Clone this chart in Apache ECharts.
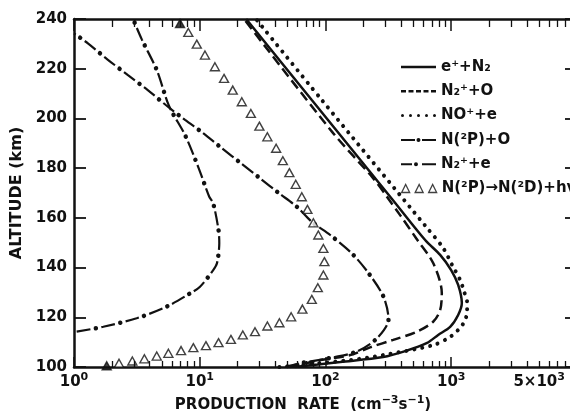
<!DOCTYPE html>
<html><head><meta charset="utf-8">
<script src="https://cdn.jsdelivr.net/npm/echarts@6/dist/echarts.min.js"></script>
<style>
html,body{margin:0;padding:0;background:#fff}
#wrap{position:relative;width:570px;height:411px}
#c,#t{position:absolute;left:0;top:0;width:570px;height:411px}
#t{pointer-events:none}
</style>
</head><body><div id="wrap"><div id="c"></div><div id="t"></div></div>
<script>
// ---- data (altitude km, production rate cm^-3 s^-1) ----
const xTickLabels = [1, 10, 100, 1000, 5000];

const altEN2  = [100,101,102,104,106.4,109.7,112.9,116.1,120.9,125.7,133,139,145.1,151.1,167.2,207.4,240];
const rateEN2 = [57,87,131,287,430,643,787,980,1135,1214,1135,998,816,620,343,77.8,23.4];

const altN2O  = [100,102.8,104.8,107.9,110.9,114.2,118.2,122.9,129.8,141.8,151.5,161.1,168.4,176,194.1,240];
const rateN2O = [52,91,157,226,345,533,718,816,841,718,531,392,309,239,115,22.5];

const altNOe  = [100,101.2,102.8,104.8,108.8,112.1,114.9,118.1,122.1,126.1,130.2,135,141,147.9,155.9,207.4,240];
const rateNOe = [43,75,157,287,718,980,1135,1267,1337,1337,1267,1177,1016,862,643,93.5,28];

const altNPO  = [100,101.5,103.9,106.2,111.5,119.2,128.3,137.9,145.7,153.1,158.4,164.5,170.1,175.9,181.7,188,194,199.4,205.4,211.4,217.5,223.8,230.2,234.2];
const rateNPO = [47.7,62.8,116,177,256,317,289,219,162,109,77.8,59.1,42.2,30.2,21.6,15,10.7,7.64,5.37,3.86,2.67,1.84,1.29,1.0];

const altN2e  = [114.2,116.2,119.6,124.3,129.6,132.3,139,141.7,149.8,155.1,165.8,168.5,180,193.3,205,219.5,231.8,240];
const rateN2e = [1.05,1.71,3.15,5.46,8.37,10.05,12.8,13.7,14.3,14.1,12.8,11.9,9.8,7.64,5.7,4.55,3.46,2.95];

const altTri  = [100.5,101.5,102.4,103.3,104.4,105.5,106.6,107.8,108.6,109.8,111.1,112.9,114.2,116.5,117.8,120.2,123.3,127.2,131.9,137,142.4,147.7,153.1,158,163.4,168.5,173.5,178.2,183,188,192.6,196.9,202,206.7,211.4,216.1,220.8,225.5,229.9,234.6,238.2];
const rateTri = [1.82,2.28,2.91,3.63,4.55,5.63,7.1,8.89,11.2,14.1,17.7,22,27.5,34.5,43,53.3,65.5,77.8,86.9,96.2,98,96.2,87.7,80.1,71.8,64.8,58,51.6,45.8,40.5,34.5,29.8,25.5,21.6,18.3,15.6,13.2,11,9.47,8.11,6.97];

const legendNames = ['eN2','N2O','NOe','NPO','N2e','hv'];
const legendTexts = {eN2:'e⁺+N₂', N2O:'N₂⁺+O', NOe:'NO⁺+e', NPO:'N(²P)+O', N2e:'N₂⁺+e', hv:'N(²P)→N(²D)+hν'};

// ---- build ----
const C = '#111';
const FONT = 'DejaVu Sans';
const X_MIN = 1, X_MAX = 10000, Y_MIN = 100, Y_MAX = 240;
const GRID = {left: 74, top: 19, width: 503, height: 348, outerBoundsMode: 'none'};
const pairs = (r, a) => r.map((v, i) => [v, a[i]]);

const legendIcons = {
  eN2: {icon: 'path://M0,0H35V2.5H0Z', h: 2.5},
  N2O: {icon: 'path://M0,0H5V2.5H0Z M7.5,0H12.5V2.5H7.5Z M15,0H20V2.5H15Z M22.5,0H27.5V2.5H22.5Z M30,0H35V2.5H30Z', h: 2.5},
  NOe: {icon: 'path://M0,1.5A1.5,1.5 0 1 1 3,1.5A1.5,1.5 0 1 1 0,1.5Z M8,1.5A1.5,1.5 0 1 1 11,1.5A1.5,1.5 0 1 1 8,1.5Z M16,1.5A1.5,1.5 0 1 1 19,1.5A1.5,1.5 0 1 1 16,1.5Z M24,1.5A1.5,1.5 0 1 1 27,1.5A1.5,1.5 0 1 1 24,1.5Z M32,1.5A1.5,1.5 0 1 1 35,1.5A1.5,1.5 0 1 1 32,1.5Z', h: 3},
  NPO: {icon: 'path://M0,1H14V3H0Z M17.5,0A2,2 0 1 1 17.49,0Z M21,1H35V3H21Z', h: 4},
  N2e: {icon: 'path://M0,1H11V3H0Z M15,0A2,2 0 1 1 14.99,0Z M21,1H35V3H21Z', h: 4},
  hv:  {icon: 'path://M0,8L4,0L8,8Z M13.5,8L17.5,0L21.5,8Z M27,8L31,0L35,8Z', h: 8}
};

const txt = {fontFamily: FONT, fontWeight: 'bold', color: C};
const supTok = Object.assign({}, txt, {fontSize: 11, lineHeight: 12, verticalAlign: 'bottom', padding: [0, 0, 7, 0]});
const baseTok = Object.assign({}, txt, {fontSize: 15, lineHeight: 16, verticalAlign: 'bottom'});

const axisLine = {show: true, onZero: false, lineStyle: {color: C, width: 2.5}};
const noTicks = {axisTick: {show: false}, minorTick: {show: false}, splitLine: {show: false}, minorSplitLine: {show: false}};

const triData = pairs(rateTri, altTri).map((p, i, arr) => ({
  value: p,
  itemStyle: (i === 0 || i === arr.length - 1) ? {color: C} : undefined
}));

const dashDot = (name, r, a) => ([
  {name, type: 'line', data: pairs(r, a), symbol: 'none', smooth: 0.3, color: C,
   lineStyle: {color: C, width: 2.2, type: [14, 11]}},
  {name, type: 'line', data: pairs(r, a), symbol: 'none', smooth: 0.3, color: C,
   lineStyle: {color: C, width: 4.5, type: [0.01, 24.99], dashOffset: -19.5, cap: 'round'}}
]);

// ---- main chart: frame, labels, curves, legend ----
const option = {
  animation: false,
  backgroundColor: '#fff',
  grid: GRID,
  xAxis: [
    Object.assign({type: 'log', min: X_MIN, max: X_MAX, position: 'bottom', axisLine,
     axisLabel: {customValues: xTickLabels, margin: 7,
       formatter: v => v === 5000 ? '{b|5×10}{p|3}' : '{b|10}{p|' + Math.round(Math.log10(v)) + '}',
       rich: {b: baseTok, p: supTok}},
     name: '{t|PRODUCTION  RATE  (cm}{s|−3}{t|s}{s|−1}{t|)}',
     nameLocation: 'middle', nameGap: 27,
     nameTextStyle: {padding: [0, 45, 0, 0], rich: {t: baseTok, s: supTok}}}, noTicks),
    Object.assign({type: 'log', min: X_MIN, max: X_MAX, position: 'top', axisLine,
     axisLabel: {show: false}}, noTicks)
  ],
  yAxis: [
    Object.assign({type: 'value', min: Y_MIN, max: Y_MAX, interval: 20, position: 'left', axisLine,
     axisLabel: Object.assign({margin: 7, fontSize: 15}, txt),
     name: 'ALTITUDE (km)', nameLocation: 'middle', nameGap: 47,
     nameTextStyle: Object.assign({fontSize: 16}, txt)}, noTicks),
    Object.assign({type: 'value', min: Y_MIN, max: Y_MAX, interval: 20, position: 'right', axisLine,
     axisLabel: {show: false}}, noTicks)
  ],
  legend: legendNames.map((n, i) => ({
    data: [{name: n, icon: legendIcons[n].icon}],
    left: 401, top: 57 + i * 24.3, padding: 0, selectedMode: false,
    itemWidth: 35, itemHeight: legendIcons[n].h,
    formatter: () => legendTexts[n],
    textStyle: Object.assign({fontSize: 15, lineHeight: 20}, txt),
    itemStyle: n === 'hv' ? {color: '#fff', borderColor: C, borderWidth: 1.3} : {color: C, borderWidth: 0}
  })),
  series: [
    {name: 'eN2', type: 'line', data: pairs(rateEN2, altEN2), symbol: 'none', smooth: 0.3, color: C,
     lineStyle: {color: C, width: 2.5}},
    {name: 'N2O', type: 'line', data: pairs(rateN2O, altN2O), symbol: 'none', smooth: 0.3, color: C,
     lineStyle: {color: C, width: 2.5, type: [10, 5]}},
    {name: 'NOe', type: 'line', data: pairs(rateNOe, altNOe), symbol: 'none', smooth: 0.3, color: C,
     lineStyle: {color: C, width: 4, type: [0.01, 8], cap: 'round'}},
    ...dashDot('NPO', rateNPO, altNPO),
    ...dashDot('N2e', rateN2e, altN2e),
    {name: 'hv', type: 'scatter', data: triData, symbol: 'triangle', symbolSize: [9, 8], z: 5,
     itemStyle: {color: '#fff', borderColor: C, borderWidth: 1.4}}
  ]
};
echarts.init(document.getElementById('c'), null, {renderer: 'canvas'}).setOption(option);

// ---- overlay chart with the same grid and scales: inward tick marks on all four sides ----
const tickAxis = (len, minorLen, w) => ({
  axisLine: {show: false},
  axisLabel: {show: false},
  splitLine: {show: false},
  minorSplitLine: {show: false},
  axisTick: {show: true, inside: true, length: len, lineStyle: {color: C, width: w}},
  minorTick: {show: minorLen > 0, splitNumber: 9, length: minorLen, lineStyle: {color: C, width: 1.3}}
});
echarts.init(document.getElementById('t'), null, {renderer: 'canvas'}).setOption({
  animation: false,
  grid: GRID,
  xAxis: [
    Object.assign({type: 'log', min: X_MIN, max: X_MAX, position: 'bottom'}, tickAxis(10, 6, 1.5)),
    Object.assign({type: 'log', min: X_MIN, max: X_MAX, position: 'top'}, tickAxis(12, 8, 1.5))
  ],
  yAxis: [
    Object.assign({type: 'value', min: Y_MIN, max: Y_MAX, interval: 20, position: 'left'}, tickAxis(12, 0, 1.8)),
    Object.assign({type: 'value', min: Y_MIN, max: Y_MAX, interval: 20, position: 'right'}, tickAxis(12, 0, 1.8))
  ],
  series: [{type: 'line', data: [], silent: true}]
});
</script>
</body></html>
